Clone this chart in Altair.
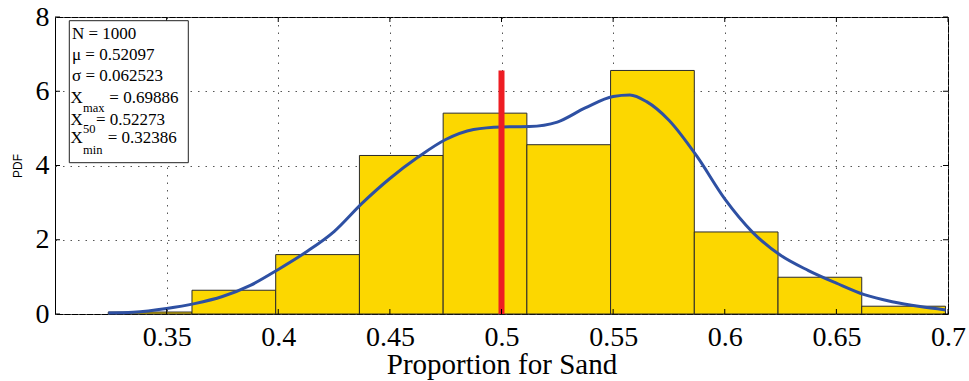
import altair as alt
import pandas as pd

# ---- data ----
bin_width = 0.0375
bin_start = [0.32386, 0.36136, 0.39886, 0.43636, 0.47386,
             0.51136, 0.54886, 0.58636, 0.62386, 0.66136]
bin_pdf = [0.053, 0.64, 1.60, 4.27, 5.41, 4.56, 6.56, 2.21, 0.99, 0.21]

kde_x = [0.3239, 0.335, 0.35, 0.3625, 0.375, 0.3875, 0.40, 0.4125, 0.425,
         0.4375, 0.45, 0.4625, 0.475, 0.4875, 0.50, 0.5125, 0.525, 0.5375,
         0.55, 0.5575, 0.565, 0.575, 0.5875, 0.60, 0.6125, 0.625, 0.6375,
         0.65, 0.6625, 0.675, 0.6875, 0.6989]
kde_y = [0.03, 0.05, 0.15, 0.28, 0.47, 0.77, 1.20, 1.67, 2.22,
         2.98, 3.65, 4.22, 4.70, 4.97, 5.04, 5.05, 5.17, 5.55,
         5.86, 5.90, 5.72, 5.22, 4.25, 3.10, 2.20, 1.58, 1.17,
         0.83, 0.52, 0.33, 0.20, 0.11]

ref_x = [0.5]
ref_top = [6.56]

x_ticks = [0.35, 0.4, 0.45, 0.5, 0.55, 0.6, 0.65, 0.7]
y_ticks = [0, 2, 4, 6, 8]

stat_n = "1000"
stat_mu = "0.52097"
stat_sigma = "0.062523"
stat_max = "0.69886"
stat_50 = "0.52273"
stat_min = "0.32386"

# ---- tables ----
bars = pd.DataFrame({
    "x0": bin_start,
    "x1": [b + bin_width for b in bin_start],
    "pdf": bin_pdf,
})
kde = pd.DataFrame({"x": kde_x, "y": kde_y})
red = pd.DataFrame({"x": ref_x, "y0": [0] * len(ref_x), "y1": ref_top})
xt = pd.DataFrame({"v": x_ticks})
yt = pd.DataFrame({"v": y_ticks})

W, H = 893, 297
SERIF = "Liberation Serif"

xscale = alt.Scale(domain=[0.3, 0.7], nice=False, zero=False)
yscale = alt.Scale(domain=[0, 8], nice=False)

x_axis = alt.Axis(
    values=x_ticks, format="~g", ticks=False, domain=False,
    labelFont=SERIF, labelFontSize=28, labelColor="black",
    labelBaseline="alphabetic", labelPadding=31, labelFlush=False,
    labelOverlap=False, labelBound=False,
    grid=True, gridDash=[1.5, 6], gridColor="#555", gridWidth=1,
    title="Proportion for Sand", titleFont=SERIF, titleFontSize=29,
    titleFontWeight="normal", titleColor="black",
    titleY=59, titleBaseline="alphabetic",
)
y_axis = alt.Axis(
    values=y_ticks, format="d", ticks=False, domain=False,
    labelFont=SERIF, labelFontSize=28, labelColor="black",
    labelBaseline="middle", labelPadding=6, labelFlush=False,
    labelOverlap=False, labelBound=False,
    grid=True, gridDash=[1.5, 6], gridColor="#555", gridWidth=1,
    title="PDF", titleFont="Liberation Sans", titleFontSize=12,
    titleFontWeight="normal", titleColor="black",
    titleX=-37.5, titleY=H / 2, titleAngle=270,
    titleAlign="center", titleBaseline="middle",
)


def X(field):
    return alt.X(field, scale=xscale, axis=x_axis, title="Proportion for Sand")


def Y(field):
    return alt.Y(field, scale=yscale, axis=y_axis, title="PDF")


hist = alt.Chart(bars).mark_rect(
    fill="#FCD700", stroke="#2a2a2a", strokeWidth=1
).encode(
    x=X("x0:Q"), x2="x1:Q",
    y=Y("pdf:Q"), y2=alt.Y2(datum=0),
)

curve = alt.Chart(kde).mark_line(
    color="#2E50A3", strokeWidth=3, interpolate="monotone"
).encode(x=X("x:Q"), y=Y("y:Q"))

redline = alt.Chart(red).mark_rule(color="#EE1D23", strokeWidth=6).encode(
    x=X("x:Q"), y=Y("y0:Q"), y2="y1:Q",
)

tick_len = 5
ticks_bottom = alt.Chart(xt).mark_rule(color="black", strokeWidth=1).encode(
    x=X("v:Q"), y=alt.value(H - tick_len), y2=alt.value(H),
)
ticks_top = alt.Chart(xt).mark_rule(color="black", strokeWidth=1).encode(
    x=X("v:Q"), y=alt.value(0), y2=alt.value(tick_len),
)
ticks_left = alt.Chart(yt).mark_rule(color="black", strokeWidth=1).encode(
    y=Y("v:Q"), x=alt.value(0), x2=alt.value(tick_len),
)
ticks_right = alt.Chart(yt).mark_rule(color="black", strokeWidth=1).encode(
    y=Y("v:Q"), x=alt.value(W - tick_len), x2=alt.value(W),
)

one = alt.Data(values=[{}])
box = alt.Chart(one).mark_rect(fill="white", stroke="#222", strokeWidth=1).encode(
    x=alt.value(14.3), x2=alt.value(133.3),
    y=alt.value(3.7), y2=alt.value(145.7),
)


def txt(s, x, y, size=17):
    return alt.Chart(one).mark_text(
        text=s, font=SERIF, fontSize=size, align="left",
        baseline="alphabetic", color="black",
    ).encode(x=alt.value(x), y=alt.value(y))


texts = [
    txt(f"N = {stat_n}", 17, 21.7),
    txt(f"\u03bc = {stat_mu}", 17, 43.3),
    txt(f"\u03c3 = {stat_sigma}", 17, 64.3),
    txt("X", 15.5, 86),
    txt("max", 28, 95, 12.5),
    txt(f"= {stat_max}", 54.3, 86),
    txt("X", 15.5, 107.7),
    txt("50", 28, 116, 12.5),
    txt(f"= {stat_50}", 41, 107.7),
    txt("X", 15.5, 125.5),
    txt("min", 28, 137, 12.5),
    txt(f"= {stat_min}", 52.7, 125.5),
]

chart = alt.layer(
    hist, curve, redline, ticks_bottom, ticks_top, ticks_left, ticks_right,
    box, *texts,
).properties(
    width=W, height=H,
    autosize=alt.AutoSizeParams(type="none"),
    padding={"left": 55, "top": 17, "right": 21, "bottom": 67},
    background="white",
).configure_view(
    stroke="black", strokeWidth=1
)

chart.save("out.html", embed_options={"renderer": "svg", "actions": False})
